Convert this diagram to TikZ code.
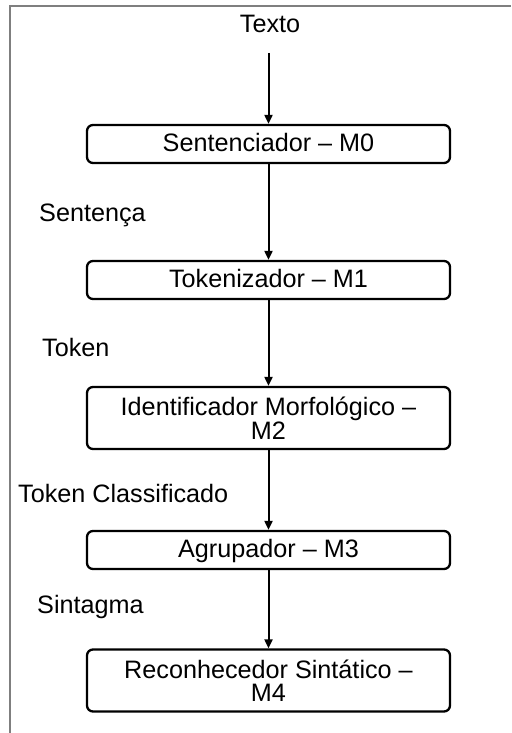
\documentclass[tikz,border=0pt]{standalone}
\usepackage{fontspec}
\setmainfont{Liberation Sans}
\usetikzlibrary{arrows.meta}
\definecolor{framegray}{HTML}{7F7F7F}
\begin{document}
\begin{tikzpicture}[x=1pt,y=-1pt,
  every node/.style={font=\fontsize{25.2}{23.5}\selectfont, inner sep=0pt},
  boxbase/.style={draw=black, line width=2.3pt, rounded corners=6pt,
    minimum width=363pt, align=center},
  modbox/.style={boxbase, minimum height=38pt, text height=19pt, text depth=5pt},
  tallbox/.style={boxbase, minimum height=62pt},
  flow/.style={line width=2pt, -{Triangle[length=9pt,width=8pt]}},
  lbl/.style={anchor=base west}
]
\useasboundingbox (0,0) rectangle (511,733);
\draw[framegray, line width=2.2pt] (9.7,733) -- (9.7,6) -- (511,6);

\node[anchor=base] (texto) at (270,33) {Texto};
\coordinate (tin) at (268.5,53);

\node[modbox] (m0) at (268.5,144) {Sentenciador – M0};
\node[modbox] (m1) at (268.5,280) {Tokenizador – M1};
\node[tallbox] (m2) at (268.5,418) {Identificador Morfológico –\\M2};
\node[modbox] (m3) at (268.5,550) {Agrupador – M3};
\node[tallbox] (m4) at (268.5,680.5) {Reconhecedor Sintático –\\M4};

\node[lbl] (l1) at (39,221) {Sentença};
\node[lbl] (l2) at (42,356) {Token};
\node[lbl] (l3) at (18,502) {Token Classificado};
\node[lbl] (l4) at (37,613) {Sintagma};

\draw[flow] (tin) -- (m0.north);
\draw[flow] (m0) -- (m1);
\draw[flow] (m1) -- (m2);
\draw[flow] (m2) -- (m3);
\draw[flow] (m3) -- (m4);
\end{tikzpicture}
\end{document}
